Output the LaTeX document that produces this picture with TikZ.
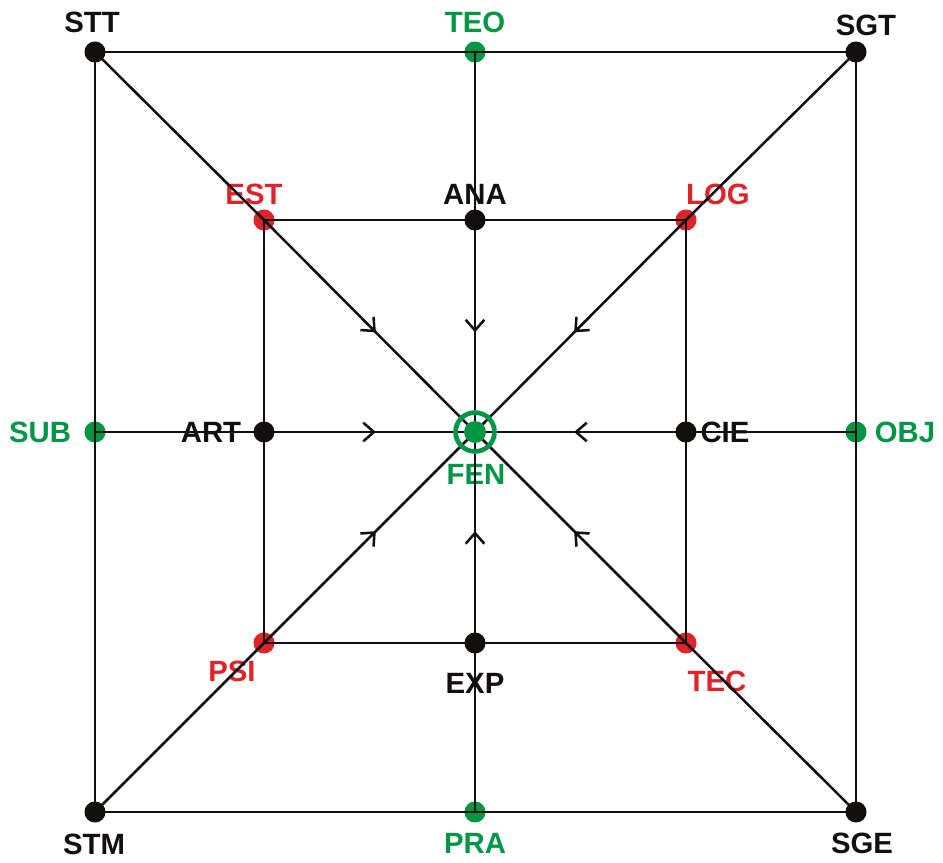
\documentclass[tikz,border=0pt]{standalone}
\usepackage{fontspec}
\setmainfont{Liberation Sans}
\usetikzlibrary{arrows.meta,decorations.markings}
\definecolor{fgreen}{RGB}{0,150,70}
\definecolor{fred}{RGB}{222,36,40}
\definecolor{fblack}{RGB}{20,15,15}
\tikzset{
  dotnode/.style={circle,fill=#1,inner sep=0pt,minimum size=15.8pt},
  bdot/.style={dotnode=fblack},
  gdot/.style={dotnode=fgreen},
  rdot/.style={dotnode=fred},
  lbl/.style={inner sep=0pt,text height=15.75pt,text depth=0pt,font=\fontsize{22}{24}\selectfont\bfseries,text=#1},
  blbl/.style={lbl=fblack},
  glbl/.style={lbl=fgreen},
  rlbl/.style={lbl=fred},
  edge/.style={draw=fblack,line width=1.9pt},
  midarrow/.style={edge,postaction={decorate},decoration={markings,mark=at position 0.53 with {\arrow[fblack,line width=1.9pt]{Straight Barb[length=8pt,width=14pt]}}}}
}
\begin{document}
\begin{tikzpicture}[x=0.75pt,y=-0.75pt]
\useasboundingbox (0,0) rectangle (943,863);
% dots
\node[bdot] (STT) at (95,52) {};
\node[gdot] (TEO) at (475,52) {};
\node[bdot] (SGT) at (856,52) {};
\node[gdot] (SUB) at (95,432) {};
\node[gdot] (OBJ) at (856,432) {};
\node[bdot] (STM) at (95,812) {};
\node[gdot] (PRA) at (475,812) {};
\node[bdot] (SGE) at (856,812) {};
\node[rdot] (EST) at (264,220) {};
\node[bdot] (ANA) at (475,220) {};
\node[rdot] (LOG) at (686,220) {};
\node[bdot] (ART) at (264,432) {};
\node[bdot] (CIE) at (686,432) {};
\node[rdot] (PSI) at (264,643) {};
\node[bdot] (EXP) at (475,643) {};
\node[rdot] (TEC) at (686,643) {};
\coordinate (FEN) at (475,432);
% labels
\node[blbl] (lSTT) at (92,22) {STT};
\node[glbl] (lTEO) at (475,22) {TEO};
\node[blbl] (lSGT) at (866,25) {SGT};
\node[rlbl] (lEST) at (254,194) {EST};
\node[blbl] (lANA) at (475,194) {ANA};
\node[rlbl] (lLOG) at (718,194) {LOG};
\node[glbl] (lSUB) at (40,432) {SUB};
\node[blbl] (lART) at (211,432) {ART};
\node[blbl] (lCIE) at (725,432) {CIE};
\node[glbl] (lOBJ) at (905,432) {OBJ};
\node[glbl] (lFEN) at (476,474) {FEN};
\node[rlbl] (lPSI) at (232,671) {PSI};
\node[blbl] (lEXP) at (475,683) {EXP};
\node[rlbl] (lTEC) at (717,681) {TEC};
\node[blbl] (lSTM) at (94,844) {STM};
\node[glbl] (lPRA) at (475,843) {PRA};
\node[blbl] (lSGE) at (862,843) {SGE};
% outer square
\draw[edge] (STT.center) -- (TEO.center) -- (SGT.center) -- (OBJ.center) -- (SGE.center) -- (PRA.center) -- (STM.center) -- (SUB.center) -- cycle;
% inner square
\draw[edge] (EST.center) -- (ANA.center) -- (LOG.center) -- (CIE.center) -- (TEC.center) -- (EXP.center) -- (PSI.center) -- (ART.center) -- cycle;
% spokes outer to inner
\draw[edge] (TEO.center) -- (ANA.center);
\draw[edge] (SGT.center) -- (LOG.center);
\draw[edge] (OBJ.center) -- (CIE.center);
\draw[edge] (SGE.center) -- (TEC.center);
\draw[edge] (PRA.center) -- (EXP.center);
\draw[edge] (STM.center) -- (PSI.center);
\draw[edge] (SUB.center) -- (ART.center);
\draw[edge] (STT.center) -- (EST.center);
% spokes inner to centre
\draw[midarrow] (ANA.center) -- (FEN);
\draw[midarrow] (LOG.center) -- (FEN);
\draw[midarrow] (CIE.center) -- (FEN);
\draw[midarrow] (TEC.center) -- (FEN);
\draw[midarrow] (EXP.center) -- (FEN);
\draw[midarrow] (PSI.center) -- (FEN);
\draw[midarrow] (ART.center) -- (FEN);
\draw[midarrow] (EST.center) -- (FEN);
% centre mark
\draw[fgreen,line width=3.5pt] (FEN) circle (19.5);
\fill[fgreen] (FEN) circle (11);
\end{tikzpicture}
\end{document}
